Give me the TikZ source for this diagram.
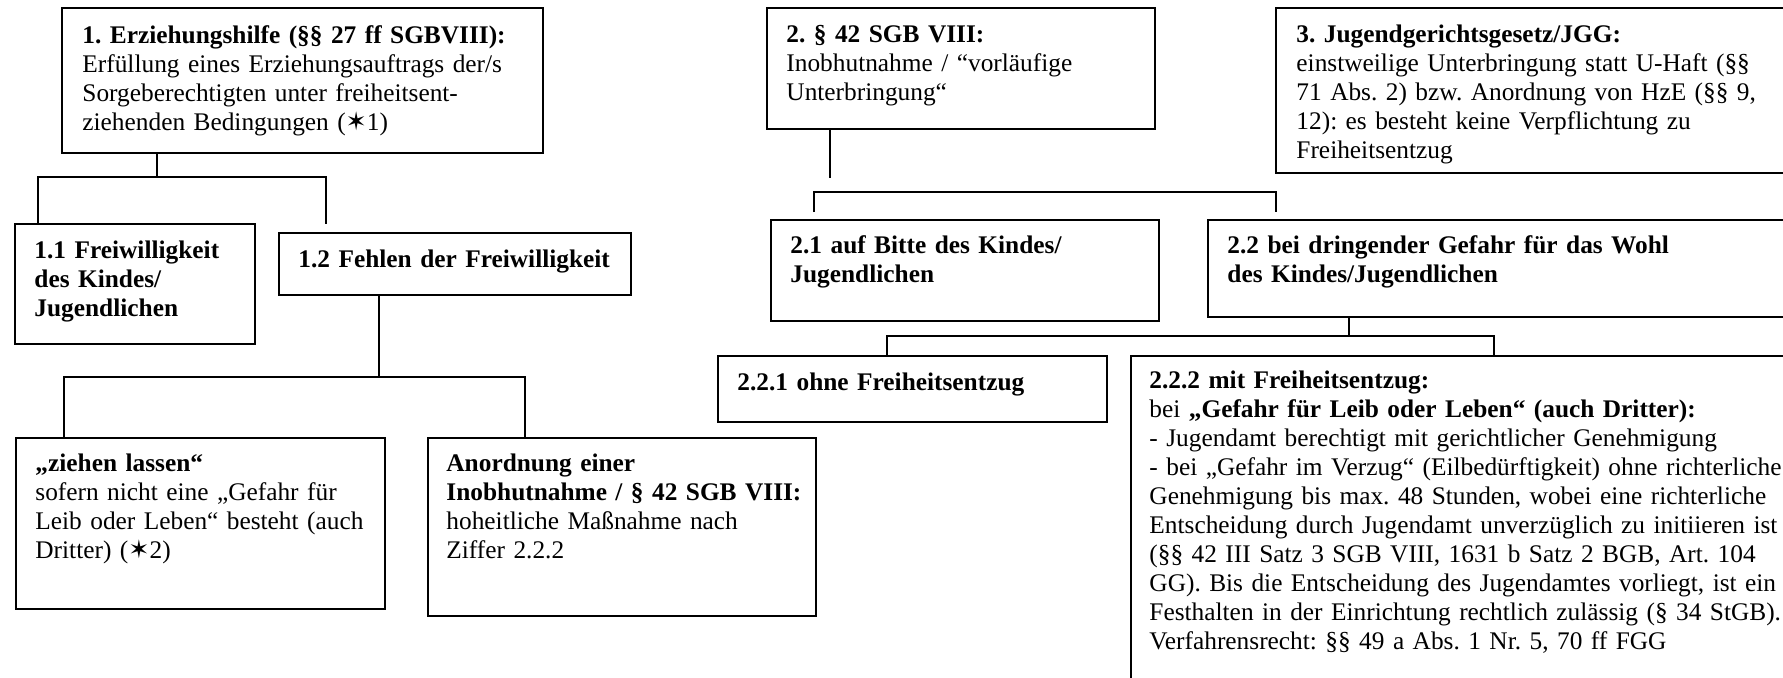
\documentclass[tikz,border=0pt]{standalone}
\usepackage{fontspec}
\setmainfont{Liberation Serif}
\newfontfamily\starfont{DejaVu Sans}
\usetikzlibrary{calc,positioning}
\newcommand{\starmark}{{\starfont ✶}}

\tikzset{
  box/.style 2 args={draw, line width=0.9pt, anchor=north west, inner sep=0pt,
    minimum width=#1*0.4615pt, minimum height=#2*0.4615pt},
  txt/.style={anchor=base west, inner sep=0pt, text width=330pt, align=left,
    font=\fontsize{11.7}{13.4}\selectfont\frenchspacing},
  link/.style={line width=0.7pt}
}

\begin{document}
\begin{tikzpicture}[x=0.4615pt, y=-0.4615pt]
    \useasboundingbox (0,0) rectangle (1783,677);
    \clip (0,0) rectangle (1783,677);
    % Branch 1: Erziehungshilfe
    \node[box={481}{145}] (erz) at (61,7) {};
    \node[txt] (erz-t) at ([shift={(21,36)}]erz.north west)
        {\textbf{1. Erziehungshilfe (§§ 27 ff SGBVIII):}\\
         Erfüllung eines Erziehungsauftrags der/s\\
         Sorgeberechtigten unter freiheitsent-\\
         ziehenden Bedingungen (\starmark1)};
    \node[box={240}{120}] (frei) at (14,223) {};
    \node[txt] (frei-t) at ([shift={(20,35)}]frei.north west)
        {\bfseries 1.1 Freiwilligkeit\\des Kindes/\\Jugendlichen};
    \node[box={352}{62}] (fehl) at (278,232) {};
    \node[txt] (fehl-t) at ([shift={(20,35)}]fehl.north west)
        {\bfseries 1.2 Fehlen der Freiwilligkeit};
    \node[box={369}{171}] (ziehen) at (15,437) {};
    \node[txt] (ziehen-t) at ([shift={(20,34)}]ziehen.north west)
        {\textbf{„ziehen lassen“}\\
         sofern nicht eine „Gefahr für\\
         Leib oder Leben“ besteht (auch\\
         Dritter) (\starmark2)};
    \node[box={388}{178}] (anord) at (427,437) {};
    \node[txt] (anord-t) at ([shift={(19,34)}]anord.north west)
        {\textbf{Anordnung einer}\\
         \textbf{Inobhutnahme / § 42 SGB VIII:}\\
         hoheitliche Maßnahme nach\\
         Ziffer 2.2.2};
    % Branch 2: Inobhutnahme
    \node[box={388}{121}] (inob) at (766,7) {};
    \node[txt] (inob-t) at ([shift={(20,35)}]inob.north west)
        {\textbf{2. § 42 SGB VIII:}\\
         Inobhutnahme / “vorläufige\\
         Unterbringung“};
    \node[box={388}{101}] (bitte) at (770,219) {};
    \node[txt] (bitte-t) at ([shift={(20,34)}]bitte.north west)
        {\bfseries 2.1 auf Bitte des Kindes/\\Jugendlichen};
    \node[box={700}{97}] (wohl) at (1207,219) {};
    \node[txt] (wohl-t) at ([shift={(20,34)}]wohl.north west)
        {\bfseries 2.2 bei dringender Gefahr für das Wohl\\des Kindes/Jugendlichen};
    \node[box={389}{66}] (ohne) at (717,355) {};
    \node[txt] (ohne-t) at ([shift={(20,35)}]ohne.north west)
        {\bfseries 2.2.1 ohne Freiheitsentzug};
    \node[box={700}{400}] (mit) at (1130,355) {};
    \node[txt] (mit-t) at ([shift={(19,33)}]mit.north west)
        {\textbf{2.2.2 mit Freiheitsentzug:}\\
         bei \textbf{„Gefahr für Leib oder Leben“ (auch Dritter):}\\
         - Jugendamt berechtigt mit gerichtlicher Genehmigung\\
         - bei „Gefahr im Verzug“ (Eilbedürftigkeit) ohne richterliche\\
         Genehmigung bis max. 48 Stunden, wobei eine richterliche\\
         Entscheidung durch Jugendamt unverzüglich zu initiieren ist\\
         (§§ 42 III Satz 3 SGB VIII, 1631 b Satz 2 BGB, Art. 104\\
         GG). Bis die Entscheidung des Jugendamtes vorliegt, ist ein\\
         Festhalten in der Einrichtung rechtlich zulässig (§ 34 StGB).\\
         Verfahrensrecht: §§ 49 a Abs. 1 Nr. 5, 70 ff FGG};
    % Branch 3: JGG
    \node[box={600}{165}] (jgg) at (1275,7) {};
    \node[txt] (jgg-t) at ([shift={(21,35)}]jgg.north west)
        {\textbf{3. Jugendgerichtsgesetz/JGG:}\\
         einstweilige Unterbringung statt U-Haft (§§\\
         71 Abs. 2) bzw. Anordnung von HzE (§§ 9,\\
         12): es besteht keine Verpflichtung zu\\
         Freiheitsentzug};
    % Connectors
    \draw[link] ([shift={(96,0)}]erz.south west) -- ++(0,23) coordinate (j1);
    \draw[link] ([shift={(24,0)}]frei.north west) |- (j1) -| ([shift={(48,-8)}]fehl.north west);
    \draw[link] ([shift={(101,0)}]fehl.south west) -- ++(0,81) coordinate (j2);
    \draw[link] ([shift={(49,0)}]ziehen.north west) |- (j2) -| ([shift={(98,0)}]anord.north west);
    \draw[link] ([shift={(64,0)}]inob.south west) -- ++(0,48) coordinate (e2);
    \draw[link] ([shift={(44,-7)}]bitte.north west) -- ++(0,-20) -| ([shift={(69,-7)}]wohl.north west);
    \draw[link] ([shift={(142,0)}]wohl.south west) -- ++(0,18) coordinate (j3);
    \draw[link] ([shift={(170,0)}]ohne.north west) |- (j3) -| ([shift={(364,0)}]mit.north west);
\end{tikzpicture}
\end{document}
